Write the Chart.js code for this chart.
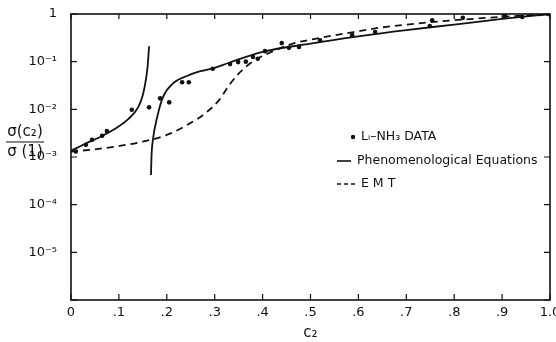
<!DOCTYPE html>
<html>
<head>
<meta charset="utf-8">
<script src="https://cdn.jsdelivr.net/npm/chart.js@4/dist/chart.umd.min.js"></script>
<style>
  html, body { margin: 0; padding: 0; background: #fff; }
  #wrap { width: 556px; height: 342px; }
</style>
</head>
<body>
<div id="wrap"><canvas id="cond"></canvas></div>
<script>
// --- données ---
const dataC2 = [0.01, 0.031, 0.044, 0.065, 0.075, 0.127, 0.163, 0.186, 0.205, 0.232, 0.246,
  0.296, 0.332, 0.349, 0.365, 0.380, 0.390, 0.405, 0.440, 0.455, 0.476, 0.520, 0.587,
  0.635, 0.749, 0.754, 0.818, 0.906, 0.942, 0.979, 0.996];
const dataSigma = [0.0013, 0.0018, 0.0023, 0.0028, 0.0035, 0.0098, 0.011, 0.017, 0.014, 0.037, 0.037,
  0.071, 0.089, 0.098, 0.10, 0.126, 0.115, 0.166, 0.245, 0.195, 0.204, 0.28, 0.36,
  0.42, 0.56, 0.74, 0.83, 0.91, 0.87, 1.0, 1.0];

// équations phénoménologiques : branche basse (c2 < .165)
const phenoLowC2 = [0, 0.03, 0.06, 0.09, 0.12, 0.14, 0.15, 0.156, 0.16, 0.163];
const phenoLowSigma = [0.00135, 0.0019, 0.0026, 0.0038, 0.0063, 0.011, 0.02, 0.04, 0.08, 0.21];

// équations phénoménologiques : branche haute (c2 > .165)
const phenoHighC2 = [0.167, 0.168, 0.171, 0.18, 0.192, 0.213, 0.242, 0.27, 0.3, 0.33, 0.4, 0.5, 0.6, 0.7, 0.8, 0.9, 1.0];
const phenoHighSigma = [0.00042, 0.001, 0.0023, 0.0069, 0.018, 0.035, 0.05, 0.063, 0.074, 0.095, 0.16, 0.24, 0.34, 0.46, 0.6, 0.79, 1.0];

// EMT
const emtC2 = [0, 0.05, 0.1, 0.15, 0.2, 0.25, 0.28, 0.31, 0.33, 0.35, 0.37, 0.39, 0.42, 0.46, 0.52, 0.59, 0.65, 0.7, 0.8, 0.9, 1.0];
const emtSigma = [0.0013, 0.00145, 0.0017, 0.0021, 0.0029, 0.0052, 0.0082, 0.016, 0.032, 0.056, 0.085, 0.117, 0.162, 0.234, 0.316, 0.417, 0.525, 0.6, 0.74, 0.87, 1.0];

// graduations
const xTicks = [0, 0.1, 0.2, 0.3, 0.4, 0.5, 0.6, 0.7, 0.8, 0.9, 1.0];
const xTickLabels = ['0', '.1', '.2', '.3', '.4', '.5', '.6', '.7', '.8', '.9', '1.0'];
const yTicks = [1e-6, 1e-5, 1e-4, 1e-3, 1e-2, 1e-1, 1];
const yTickLabels = ['', '10\u207B\u2075', '10\u207B\u2074', '10\u207B\u00B3', '10\u207B\u00B2', '10\u207B\u00B9', '1'];

const legendLabels = ['L\u1D62\u2013NH\u2083 DATA', 'Phenomenological Equations', 'E M T'];

const pts = (xs, ys) => xs.map((x, i) => ({ x: x, y: ys[i] }));
const FONT = '"DejaVu Sans", sans-serif';

// cadre, graduations intérieures, étiquettes x, légende et titre de l'axe y
const decor = {
    id: 'decor',
    afterDraw(chart) {
        const ctx = chart.ctx;
        const a = chart.chartArea;
        const xs = chart.scales.x, ys = chart.scales.y;
        ctx.save();
        ctx.strokeStyle = '#111';
        ctx.lineWidth = 1.6;
        ctx.strokeRect(a.left, a.top, a.right - a.left, a.bottom - a.top);
        ctx.lineWidth = 1.2;
        ctx.beginPath();
        xTicks.forEach(v => {
            const px = xs.getPixelForValue(v);
            ctx.moveTo(px, a.bottom); ctx.lineTo(px, a.bottom - 6);
            ctx.moveTo(px, a.top); ctx.lineTo(px, a.top + 5);
        });
        yTicks.forEach(v => {
            const py = ys.getPixelForValue(v);
            ctx.moveTo(a.left, py); ctx.lineTo(a.left + 6, py);
            ctx.moveTo(a.right, py); ctx.lineTo(a.right - 6, py);
        });
        ctx.stroke();

        ctx.fillStyle = '#111';
        ctx.textBaseline = 'middle';

        // étiquettes de l'axe x
        ctx.font = '13px ' + FONT;
        ctx.textAlign = 'center';
        xTicks.forEach((v, i) => {
            ctx.fillText(xTickLabels[i], xs.getPixelForValue(v), a.bottom + 13);
        });

        // légende
        ctx.textAlign = 'left';
        ctx.font = '12.5px ' + FONT;
        ctx.beginPath();
        ctx.arc(353, 137, 2.2, 0, Math.PI * 2);
        ctx.fill();
        ctx.fillText(legendLabels[0], 361, 137);
        ctx.lineWidth = 1.6;
        ctx.beginPath();
        ctx.moveTo(337, 161); ctx.lineTo(351, 161);
        ctx.stroke();
        ctx.fillText(legendLabels[1], 357, 161);
        ctx.setLineDash([4, 3]);
        ctx.beginPath();
        ctx.moveTo(337, 184); ctx.lineTo(358, 184);
        ctx.stroke();
        ctx.setLineDash([]);
        ctx.fillText(legendLabels[2], 361, 184);

        // titre y : sigma(c2) / sigma(1)
        ctx.font = '15px ' + FONT;
        ctx.textAlign = 'center';
        ctx.fillText('\u03C3(c\u2082)', 25, 132);
        ctx.lineWidth = 1.2;
        ctx.beginPath();
        ctx.moveTo(6, 142); ctx.lineTo(44, 142);
        ctx.stroke();
        ctx.fillText('\u03C3 (1)', 25, 152);
        ctx.restore();
    }
};

new Chart(document.getElementById('cond'), {
    type: 'scatter',
    data: {
        datasets: [
            {
                label: legendLabels[0],
                data: pts(dataC2, dataSigma),
                showLine: false,
                pointRadius: 2.3,
                pointBackgroundColor: '#111',
                pointBorderWidth: 0
            },
            {
                label: legendLabels[1],
                data: pts(phenoLowC2, phenoLowSigma),
                showLine: true,
                borderColor: '#111',
                borderWidth: 1.8,
                pointRadius: 0,
                cubicInterpolationMode: 'monotone'
            },
            {
                label: legendLabels[1],
                data: pts(phenoHighC2, phenoHighSigma),
                showLine: true,
                borderColor: '#111',
                borderWidth: 1.8,
                pointRadius: 0,
                cubicInterpolationMode: 'monotone'
            },
            {
                label: legendLabels[2],
                data: pts(emtC2, emtSigma),
                showLine: true,
                borderColor: '#111',
                borderWidth: 1.8,
                borderDash: [7, 5],
                pointRadius: 0,
                cubicInterpolationMode: 'monotone'
            }
        ]
    },
    options: {
        responsive: true,
        maintainAspectRatio: false,
        animation: false,
        layout: { padding: { top: 14, right: 6, left: 0, bottom: 0 } },
        plugins: { legend: { display: false }, tooltip: { enabled: false } },
        scales: {
            x: {
                type: 'linear',
                min: 0, max: 1,
                afterBuildTicks: s => { s.ticks = xTicks.map(v => ({ value: v })); },
                afterFit: s => { s.height = 42; },
                grid: { display: false },
                border: { display: false },
                ticks: { display: false },
                title: {
                    display: true,
                    text: 'c\u2082',
                    color: '#111',
                    font: { family: FONT, size: 15 },
                    padding: { top: 0, bottom: 0 }
                }
            },
            y: {
                type: 'logarithmic',
                min: 1e-6, max: 1,
                afterBuildTicks: s => { s.ticks = yTicks.map(v => ({ value: v })); },
                afterFit: s => { s.width = 71; },
                grid: { display: false },
                border: { display: false },
                ticks: {
                    color: '#111',
                    font: { family: FONT, size: 13 },
                    padding: 6,
                    callback: (v, i) => yTickLabels[i]
                }
            }
        }
    },
    plugins: [decor]
});
</script>
</body>
</html>
